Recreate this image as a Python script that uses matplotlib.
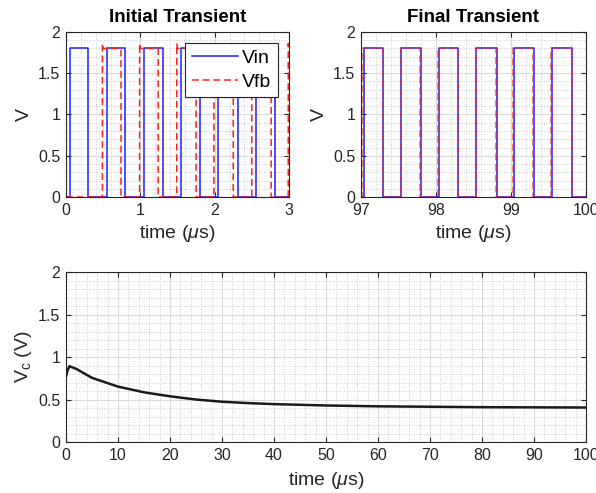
import numpy as np
import matplotlib
matplotlib.use("Agg")
import matplotlib.pyplot as plt
from matplotlib.ticker import MultipleLocator

plt.rcParams['font.family'] = ['Liberation Sans', 'DejaVu Sans']
plt.rcParams['mathtext.fontset'] = 'custom'
plt.rcParams['mathtext.rm'] = 'Liberation Sans'
plt.rcParams['mathtext.it'] = 'Liberation Sans:italic'

# Logic level of the square waves (V)
V_HIGH = 1.8

# Initial transient, 0-3 us: edge times (us)
vin_init_rise = [0.05, 0.55, 1.05, 1.55, 2.05, 2.55]
vin_init_fall = [0.30, 0.80, 1.30, 1.80, 2.31, 2.81]
vfb_init_rise = [0.49, 0.99, 1.49, 1.99, 2.50, 2.99]
vfb_init_fall = [0.74, 1.24, 1.75, 2.25, 2.76]
vfb_init_peak = 1.86

# Final transient, 97-100 us: edge times (us)
vin_fin_rise = [97.04, 97.54, 98.04, 98.54, 99.04, 99.55]
vin_fin_fall = [97.30, 97.80, 98.30, 98.81, 99.31, 99.82]
vfb_fin_rise = [97.03, 97.53, 98.03, 98.53, 99.03, 99.54]
vfb_fin_fall = [97.29, 97.79, 98.29, 98.80, 99.30, 99.81]

# Control voltage Vc over the whole run
vc_t = [0, 0.3, 0.65, 2, 5, 10, 15, 20, 25, 30, 35, 40, 50, 60, 70, 80, 90, 100]
vc_v = [0.77, 0.84, 0.892, 0.86, 0.755, 0.652, 0.585, 0.538, 0.50, 0.474,
        0.458, 0.446, 0.43, 0.42, 0.415, 0.41, 0.408, 0.406]


def square_wave(rises, falls, t0, t1, high=V_HIGH, peak=None):
    """Build step corners from lists of rising and falling edge times."""
    xs, ys = [t0], [0.0]
    for i, r in enumerate(rises):
        xs += [r]
        ys += [0.0]
        if peak is not None:
            xs += [r, r + 0.008]
            ys += [peak, high]
        else:
            xs += [r]
            ys += [high]
        if i < len(falls):
            xs += [falls[i], falls[i]]
            ys += [high, 0.0]
        else:
            xs += [t1]
            ys += [high]
            return xs, ys
    xs.append(t1)
    ys.append(0.0)
    return xs, ys


DARK = '#262626'


def style_axes(ax, xmajor, xminor):
    ax.set_ylim(0, 2)
    ax.yaxis.set_major_locator(MultipleLocator(0.5))
    ax.yaxis.set_minor_locator(MultipleLocator(0.1))
    ax.xaxis.set_major_locator(MultipleLocator(xmajor))
    ax.xaxis.set_minor_locator(MultipleLocator(xminor))
    ax.grid(which='major', color='#dadada', linewidth=0.8, linestyle='-')
    ax.grid(which='minor', color='#c8c8c8', linewidth=0.6, linestyle=(0, (1.2, 1.8)))
    ax.set_axisbelow(True)
    ax.tick_params(which='major', direction='in', length=3.5, width=0.8,
                   top=True, right=True, labelsize=11.5, colors=DARK, pad=4)
    ax.tick_params(which='minor', length=0)
    for s in ax.spines.values():
        s.set_color(DARK)
        s.set_linewidth(0.8)
    ax.yaxis.set_major_formatter(matplotlib.ticker.FuncFormatter(
        lambda v, p: ('%g' % v)))


fig = plt.figure(figsize=(5.96, 4.93), dpi=100)
ax1 = fig.add_axes([0.1107, 0.6004, 0.3742, 0.3347])
ax2 = fig.add_axes([0.6057, 0.6004, 0.3775, 0.3347])
ax3 = fig.add_axes([0.1107, 0.1034, 0.8725, 0.3448])

dash = (0, (4.5, 2.5))

# Initial transient
x, y = square_wave(vin_init_rise, vin_init_fall, 0, 3)
ax1.plot(x, y, color='#2020ff', linewidth=1.1, label='Vin')
x, y = square_wave(vfb_init_rise, vfb_init_fall, 0, 3, peak=vfb_init_peak)
ax1.plot(x, y, color='#ff2020', linewidth=1.1, linestyle=dash, label='Vfb')
ax1.set_xlim(0, 3)
style_axes(ax1, 1, 0.2)
ax1.set_title('Initial Transient', fontsize=13.5, fontweight='bold', pad=7)
ax1.set_xlabel(r'time ($\mu$s)', fontsize=14, color=DARK, labelpad=4)
ax1.set_ylabel('V', fontsize=14, color=DARK, labelpad=4)
leg = ax1.legend(loc='upper right', fontsize=14, handlelength=2.4,
                 fancybox=False, framealpha=1, edgecolor=DARK,
                 borderaxespad=0.55, borderpad=0.35, labelspacing=0.3,
                 handletextpad=0.2)
leg.get_frame().set_linewidth(0.8)

# Final transient
x, y = square_wave(vin_fin_rise, vin_fin_fall, 97, 100)
ax2.plot(x, y, color='#2020ff', linewidth=1.1)
x, y = square_wave(vfb_fin_rise, vfb_fin_fall, 97, 100)
ax2.plot(x, y, color='#ff2020', linewidth=1.1, linestyle=dash, alpha=0.75)
ax2.set_xlim(97, 100)
style_axes(ax2, 1, 0.2)
ax2.set_title('Final Transient', fontsize=13.5, fontweight='bold', pad=7)
ax2.set_xlabel(r'time ($\mu$s)', fontsize=14, color=DARK, labelpad=4)
ax2.set_ylabel('V', fontsize=14, color=DARK, labelpad=4)

# Control voltage
ax3.plot(vc_t, vc_v, color='#1a1a1a', linewidth=1.8)
ax3.set_xlim(0, 100)
style_axes(ax3, 10, 2)
ax3.set_xlabel(r'time ($\mu$s)', fontsize=14, color=DARK, labelpad=5)
ax3.set_ylabel(r'$\mathregular{V_c}$ (V)', fontsize=14, color=DARK, labelpad=3)

fig.savefig('out.png', dpi=100)
